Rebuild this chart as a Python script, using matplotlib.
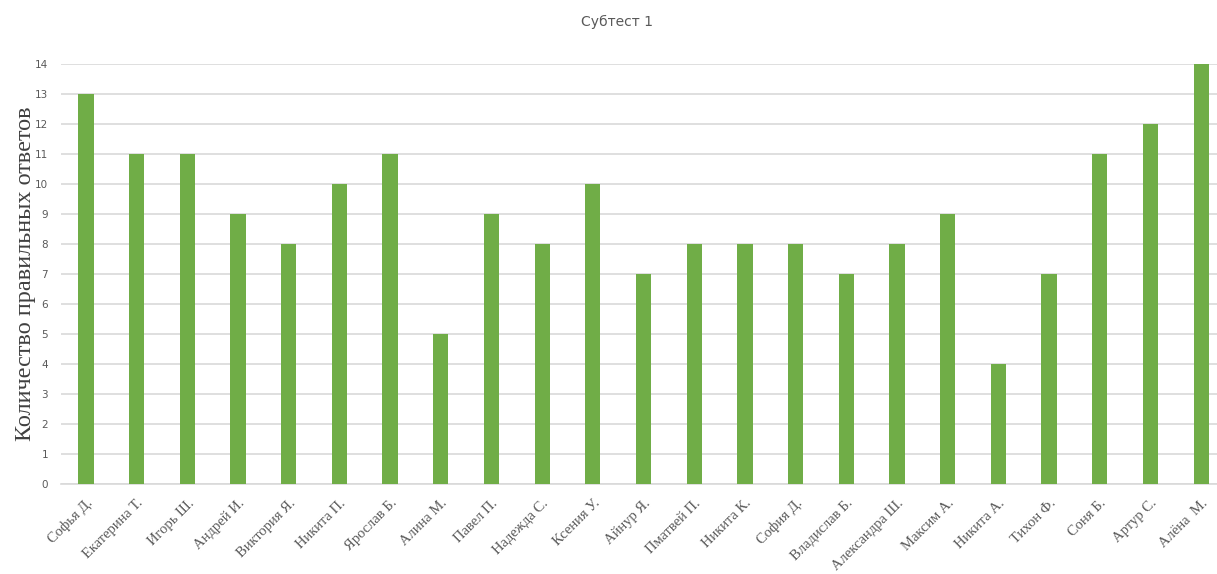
import numpy as np
import matplotlib.pyplot as plt

names = ["Софья Д.", "Екатерина Т.", "Игорь Ш.", "Андрей И.", "Виктория Я.",
         "Никита П.", "Ярослав Б.", "Алина М.", "Павел П.", "Надежда С.",
         "Ксения У.", "Айнур Я.", "Пматвей П.", "Никита К.", "София Д.",
         "Владислав Б.", "Александра Ш.", "Максим А.", "Никита А.", "Тихон Ф.",
         "Соня Б.", "Артур С.", "Алёна  М."]
scores = [13, 11, 11, 9, 8, 10, 11, 5, 9, 8, 10, 7, 8, 8, 8, 7, 8, 9, 4, 7, 11, 12, 14]
yticks = list(range(0, 15))

fig = plt.figure(figsize=(12.17, 5.74), dpi=100)
ax = fig.add_axes([0.0498, 0.1568, 0.958, 0.7317])

x = np.arange(len(names))
ax.bar(x, scores, width=0.3, color="#70AD47", zorder=3)

ax.set_xlim(-0.5, len(names) - 0.5)
ax.set_ylim(0, 14)
ax.set_yticks(yticks)
ax.yaxis.grid(True, color="#d9d9d9", linewidth=1.2, zorder=0)
for s in ["top", "right", "left"]:
    ax.spines[s].set_visible(False)
ax.spines["bottom"].set_color("#d9d9d9")
ax.spines["bottom"].set_linewidth(1.2)
ax.tick_params(axis="both", length=0)
ax.tick_params(axis="y", labelsize=7.5, labelcolor="#595959", pad=9)

ax.set_xticks(x)
ax.set_xticklabels(names, rotation=45, ha="right", rotation_mode="anchor",
                   family="Liberation Serif", fontsize=10.5, color="#595959")
ax.tick_params(axis="x", pad=9)

ax.set_ylabel("Количество правильных ответов", family="Liberation Serif",
              fontsize=17.5, color="#404040")
ax.yaxis.set_label_coords(-0.021, 0.5)

fig.text(0.507, 0.962, "Субтест 1", ha="center", va="center",
         fontsize=10, color="#595959")

fig.savefig("out.png", dpi=100)
